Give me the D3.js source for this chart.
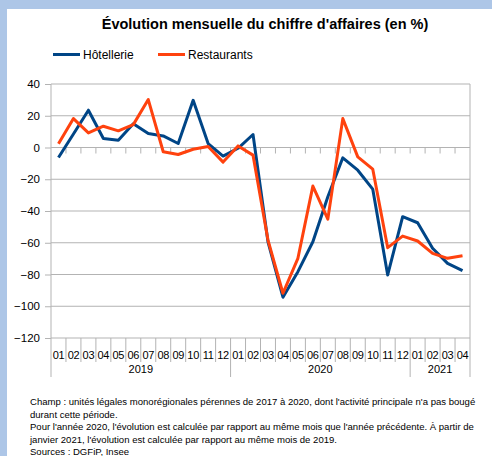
<!DOCTYPE html>
<html>
<head>
<meta charset="utf-8">
<script src="https://cdn.jsdelivr.net/npm/d3@7"></script>
<style>
  body { margin: 0; background: #fff; }
  text { font-family: "Liberation Sans", Arial, sans-serif; fill: #000; }
</style>
</head>
<body>
<script>
// data
var months = ['01','02','03','04','05','06','07','08','09','10','11','12',
              '01','02','03','04','05','06','07','08','09','10','11','12',
              '01','02','03','04'];
var yearLabels = ['2019', '2020', '2021'];
var yearCounts = [12, 12, 4];
var hotellerie = [-6.3, 8.5, 23.5, 5.7, 4.6, 15, 8.8, 7.3, 2.5, 29.7, 2.5, -5.4,
                  -0.5, 8.2, -59.4, -94.3, -78.2, -59.4, -31, -6.5, -14.3, -26.2, -80.3, -43.6,
                  -47.4, -63.5, -73, -77.6];
var restaurants = [2.3, 18.2, 9.2, 13.4, 10.5, 14.4, 30.2, -2.7, -4.4, -1.1, 0.6, -9.2,
                   1, -4.8, -58.3, -91.8, -69.8, -24.3, -45.1, 18.2, -5.9, -13.6, -63.1, -55.8,
                   -58.9, -66.7, -69.8, -68.2];
var yTicks = [40, 20, 0, -20, -40, -60, -80, -100, -120];
var seriesNames = ['Hôtellerie', 'Restaurants'];
var colors = ['#004586', '#ff420e'];
var notes = [
  "Champ : unités légales monorégionales pérennes de 2017 à 2020, dont l'activité principale n'a pas bougé",
  "durant cette période.",
  "Pour l'année 2020, l'évolution est calculée par rapport au même mois que l'année précédente. À partir de",
  "janvier 2021, l'évolution est calculée par rapport au même mois de 2019.",
  "Sources : DGFiP, Insee"
];

var w = 492;
var h = 456;
var margin = {top: 84, left: 51, right: 22, bottom: 118};
var width = w - margin.left - margin.right;
var height = h - margin.top - margin.bottom;

var svg = d3.select('body').append('svg')
            .attr('width', w)
            .attr('height', h);

// light blue frame top and left
svg.append('rect').attr('x', 0).attr('y', 0).attr('width', w).attr('height', h).attr('fill', '#adc6e7');
svg.append('rect').attr('x', 7).attr('y', 9).attr('width', w - 7).attr('height', h - 9).attr('fill', '#fff');

svg.append('text')
   .attr('x', 265)
   .attr('y', 29)
   .attr('text-anchor', 'middle')
   .style('font-size', '14.5px')
   .style('font-weight', 'bold')
   .attr('fill', '#111')
   .text("Évolution mensuelle du chiffre d'affaires (en %)");

// legend
var legendX = [53, 158];
seriesNames.forEach(function(name, i){
  svg.append('line')
     .attr('x1', legendX[i]).attr('x2', legendX[i] + 27)
     .attr('y1', 54.5).attr('y2', 54.5)
     .attr('stroke', colors[i])
     .attr('stroke-width', 3);
  svg.append('text')
     .attr('x', legendX[i] + 30)
     .attr('y', 59)
     .style('font-size', '12px')
     .text(name);
});

var chart = svg.append('g')
               .attr('transform', 'translate(' + margin.left + ',' + margin.top + ')');

var x = d3.scaleBand()
          .domain(d3.range(months.length))
          .range([0, width]);
var y = d3.scaleLinear()
          .domain([-120, 40])
          .range([height, 0]);

// gridlines
chart.selectAll('.grid')
     .data(yTicks)
     .enter()
       .append('line')
       .attr('x1', 0).attr('x2', width)
       .attr('y1', function(d){ return y(d) })
       .attr('y2', function(d){ return y(d) })
       .attr('stroke', '#b3b3b3')
       .attr('stroke-width', 1);

var yAxis = d3.axisLeft(y)
              .tickValues(yTicks)
              .tickSize(6)
              .tickPadding(5);
var yG = chart.append('g').call(yAxis);
yG.select('.domain').remove();
yG.selectAll('line').attr('stroke', '#b3b3b3');
yG.selectAll('text').style('font-size', '11.5px').attr('fill', '#000');

// left and right frame lines
chart.append('line')
     .attr('x1', 0).attr('x2', 0)
     .attr('y1', 0).attr('y2', height + 39)
     .attr('stroke', '#b3b3b3');
chart.append('line')
     .attr('x1', width).attr('x2', width)
     .attr('y1', 0).attr('y2', height + 39)
     .attr('stroke', '#b3b3b3');

// tick marks on zero line
chart.selectAll('.zeroTick')
     .data(d3.range(1, months.length))
     .enter()
       .append('line')
       .attr('x1', function(d){ return x(d) })
       .attr('x2', function(d){ return x(d) })
       .attr('y1', y(0)).attr('y2', y(0) + 6)
       .attr('stroke', '#b3b3b3');

// month separators and labels
var yearStarts = [0];
yearCounts.forEach(function(n, i){ yearStarts.push(yearStarts[i] + n) });
chart.selectAll('.sep')
     .data(d3.range(1, months.length))
     .enter()
       .append('line')
       .attr('x1', function(d){ return x(d) })
       .attr('x2', function(d){ return x(d) })
       .attr('y1', height)
       .attr('y2', function(d){ return yearStarts.indexOf(d) >= 0 ? height + 39 : height + 24 })
       .attr('stroke', '#b3b3b3');
chart.selectAll('.month')
     .data(months)
     .enter()
       .append('text')
       .attr('x', function(d, i){ return x(i) + x.bandwidth() / 2 })
       .attr('y', height + 21)
       .attr('text-anchor', 'middle')
       .style('font-size', '11px')
       .style('letter-spacing', '-0.3px')
       .text(function(d){ return d });
chart.selectAll('.year')
     .data(yearLabels)
     .enter()
       .append('text')
       .attr('x', function(d, i){ return (x(yearStarts[i]) + x(yearStarts[i + 1] - 1) + x.bandwidth()) / 2 })
       .attr('y', height + 35)
       .attr('text-anchor', 'middle')
       .style('font-size', '11px')
       .text(function(d){ return d });

// series lines
var line = d3.line()
             .x(function(d, i){ return x(i) + x.bandwidth() / 2 })
             .y(function(d){ return y(d) });
[hotellerie, restaurants].forEach(function(s, i){
  chart.append('path')
       .datum(s)
       .attr('d', line)
       .attr('fill', 'none')
       .attr('stroke', colors[i])
       .attr('stroke-width', 3)
       .attr('stroke-linejoin', 'round');
});

// notes, font shrunk so the longest line ends near x=478
var noteTexts = svg.selectAll('.note')
   .data(notes)
   .enter()
     .append('text')
     .attr('x', 30)
     .attr('y', function(d, i){ return 405 + i * 12.6 })
     .style('font-size', '10px')
     .attr('fill', '#222')
     .text(function(d){ return d });
var longest = d3.max(noteTexts.nodes(), function(n){ return n.getComputedTextLength() });
noteTexts.style('font-size', (10 * 446 / longest) + 'px');
</script>
</body>
</html>
